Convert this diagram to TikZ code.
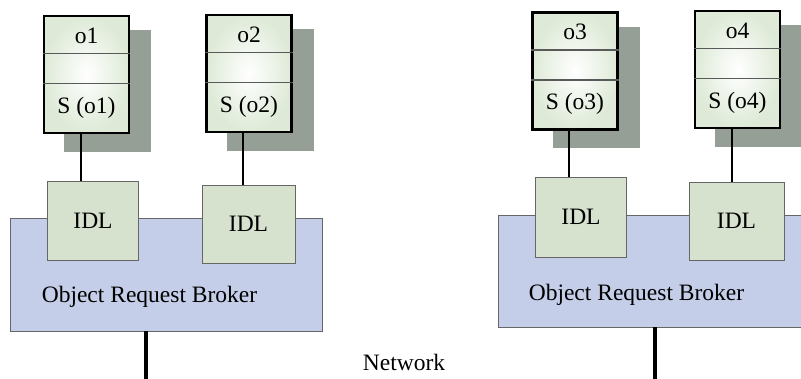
\documentclass[tikz,border=0pt]{standalone}
\usepackage{fontspec}
\setmainfont{Liberation Serif}
\usetikzlibrary{positioning}
\definecolor{shadowgray}{RGB}{150,159,150}
\definecolor{objgreen}{RGB}{222,234,215}
\definecolor{idlgreen}{RGB}{214,225,206}
\definecolor{orbblue}{RGB}{197,206,232}
\newcommand\txtsize{\fontsize{23.5}{27}\selectfont}

\begin{document}
\begin{tikzpicture}[x=1pt, y=-1pt,
    font=\txtsize,
    object/.style={draw=black, line width=2.6pt, shading=radial, inner color=white,
      outer color=objgreen, minimum width=85pt, minimum height=117pt, inner sep=0},
    divider/.style={draw=black!65, line width=1.2pt},
    shadow/.style={fill=shadowgray},
    idl/.style={draw=black!60, line width=0.8pt, fill=idlgreen,
      minimum width=91pt, minimum height=79pt, inner sep=0},
    orb/.style={draw=black!60, line width=0.8pt, fill=orbblue,
      minimum width=312pt, minimum height=113pt, inner sep=0},
    label/.style={inner sep=0},
    conn/.style={draw=black, line width=2pt},
    net/.style={draw=black, line width=3.5pt}
  ]
    \clip (0,0) rectangle (801,379);

    % shadows behind the objects
    \fill[shadow] (64,30) rectangle (151,152);
    \fill[shadow] (227,29) rectangle (314,151);
    \fill[shadow] (553,27) rectangle (640,148);
    \fill[shadow] (715,25) rectangle (810,147);

    % the two brokers
    \node[orb] (orb1) at (166,274.5) {};
    \node[orb, minimum height=112pt] (orb2) at (654,271) {};
    \node[label, anchor=west] (orb1txt) at ([xshift=32pt, yshift=-22.5pt]orb1.west) {Object Request Broker};
    \node[label, anchor=west] (orb2txt) at ([xshift=31pt, yshift=-24pt]orb2.west) {Object Request Broker};

    % interfaces
    \node[idl] (idl1) at (93,220.5) {IDL};
    \node[idl, minimum width=93pt, minimum height=78pt] (idl2) at (248.5,224) {IDL};
    \node[idl, minimum height=80pt] (idl3) at (581,217) {IDL};
    \node[idl, minimum width=95pt, minimum height=78pt] (idl4) at (736.5,221) {IDL};

    % objects
    \node[object] (o1) at (86.5,74.5) {};
    \node[object] (o2) at (249,73.5) {};
    \node[object] (o3) at (575,71) {};
    \node[object] (o4) at (737.5,69.5) {};

    \foreach \o in {o1,o2,o3,o4}{
      \draw[divider] ([yshift=21pt]\o.west) -- ([yshift=21pt]\o.east);
      \draw[divider] ([yshift=-9pt]\o.west) -- ([yshift=-9pt]\o.east);
      \node[label] (\o name) at ([yshift=39pt]\o.center) {\o};
      \node[label] (\o state) at ([yshift=-33pt]\o.center) {S (\o)};
    }

    % links object -> interface
    \draw[conn] ([xshift=-5.5pt]o1.south) -- ([xshift=-5.5pt]o1.south |- idl1.north);
    \draw[conn] ([xshift=-6pt]o2.south) -- ([xshift=-6pt]o2.south |- idl2.north);
    \draw[conn] ([xshift=-6pt]o3.south) -- ([xshift=-6pt]o3.south |- idl3.north);
    \draw[conn] ([xshift=-5.5pt]o4.south) -- ([xshift=-5.5pt]o4.south |- idl4.north);

    % network
    \coordinate (n1) at (146,380);
    \coordinate (n2) at (655,380);
    \draw[net] (n1 |- orb1.south) -- (n1);
    \draw[net] (n2 |- orb2.south) -- (n2);
    \node[label] (network) at (404,362) {Network};
  \end{tikzpicture}
\end{document}
